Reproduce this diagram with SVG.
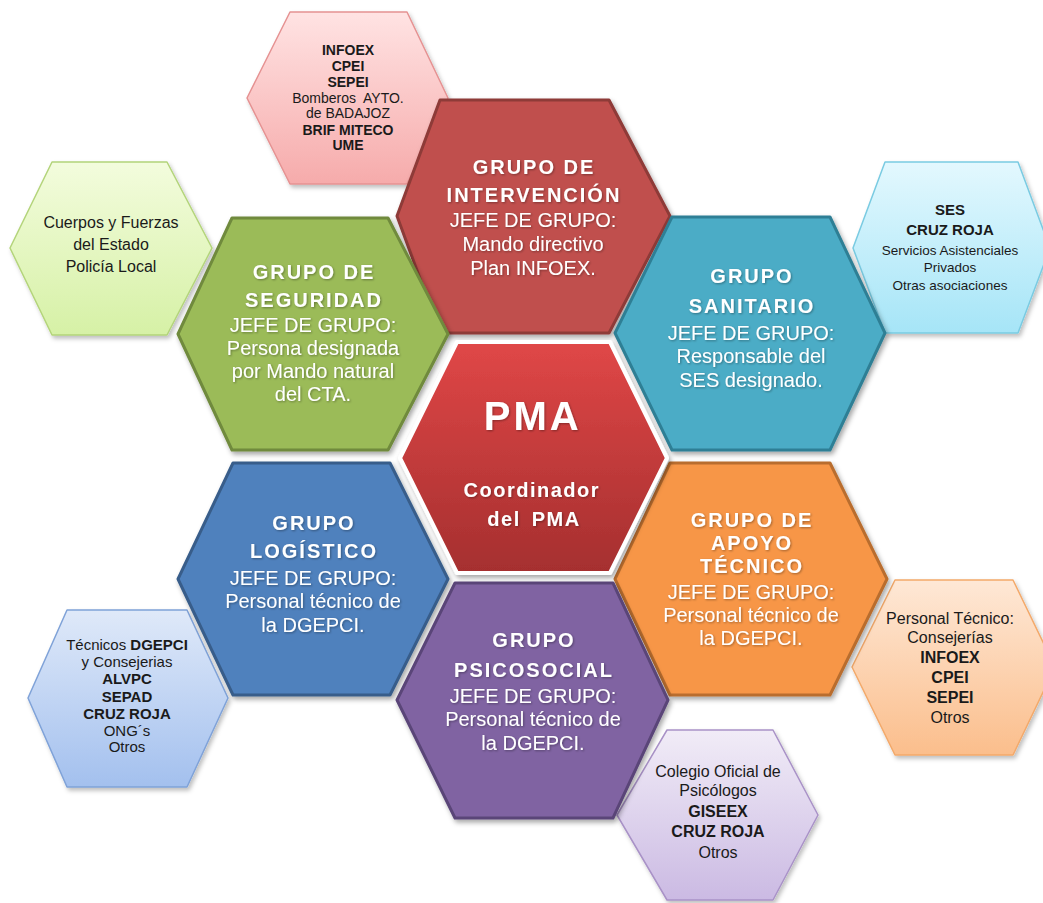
<svg xmlns="http://www.w3.org/2000/svg" width="1043" height="903" viewBox="0 0 1043 903">
<style>
.grp{stroke-width:3;stroke-linejoin:round;filter:url(#sh)}
.sat{stroke-width:1.5;stroke-linejoin:round;filter:url(#sh2)}
.tt{font-family:"Liberation Sans",Arial,sans-serif;font-weight:bold;font-size:20px;letter-spacing:2px;fill:#fff;text-anchor:middle}
.tb{font-family:"Liberation Sans",Arial,sans-serif;font-size:20px;fill:#fff;text-anchor:middle}
.txtw{filter:url(#tsh)}
.s{font-family:"Liberation Sans",Arial,sans-serif;fill:#1a1a1a;text-anchor:middle}
.b{font-weight:bold}
</style>
<defs>
<filter id="sh" x="-10%" y="-10%" width="125%" height="125%">
<feDropShadow dx="2" dy="3" stdDeviation="2.5" flood-color="#000" flood-opacity="0.35"/>
</filter>
<filter id="sh2" x="-10%" y="-10%" width="125%" height="125%">
<feDropShadow dx="2" dy="3" stdDeviation="2" flood-color="#000" flood-opacity="0.25"/>
</filter>
<filter id="tsh" x="-10%" y="-10%" width="125%" height="125%">
<feDropShadow dx="1" dy="1" stdDeviation="0.8" flood-color="#000" flood-opacity="0.35"/>
</filter>
<linearGradient id="gPMA" x1="0" y1="0" x2="0" y2="1"><stop offset="0" stop-color="#E04747"/><stop offset="1" stop-color="#A52F2F"/></linearGradient>
<linearGradient id="gPink" x1="0" y1="0" x2="0" y2="1"><stop offset="0" stop-color="#FFE3E3"/><stop offset="1" stop-color="#F6ABAB"/></linearGradient>
<linearGradient id="gLG" x1="0" y1="0" x2="0" y2="1"><stop offset="0" stop-color="#F3FCDD"/><stop offset="1" stop-color="#D6F1A6"/></linearGradient>
<linearGradient id="gLB" x1="0" y1="0" x2="0" y2="1"><stop offset="0" stop-color="#E3F8FE"/><stop offset="1" stop-color="#A6E5F7"/></linearGradient>
<linearGradient id="gBL" x1="0" y1="0" x2="0" y2="1"><stop offset="0" stop-color="#DFE9F9"/><stop offset="1" stop-color="#A3C0EE"/></linearGradient>
<linearGradient id="gOL" x1="0" y1="0" x2="0" y2="1"><stop offset="0" stop-color="#FEE8D6"/><stop offset="1" stop-color="#FBBE8C"/></linearGradient>
<linearGradient id="gPL" x1="0" y1="0" x2="0" y2="1"><stop offset="0" stop-color="#F1ECF7"/><stop offset="1" stop-color="#CBBAE3"/></linearGradient>
</defs>
<rect width="1043" height="903" fill="#fff"/>

<g id="sat-intervencion">
<polygon class="sat" points="290,12 407,12 448,98 407,184 290,184 247,98" fill="url(#gPink)" stroke="#E59292"/>
<text class="s" font-size="14"><tspan class="b" x="348" y="55">INFOEX</tspan><tspan class="b" x="348" y="71">CPEI</tspan><tspan class="b" x="348" y="87">SEPEI</tspan><tspan x="348" y="103">Bomberos&#160; AYTO.</tspan><tspan x="348" y="118">de BADAJOZ</tspan><tspan class="b" x="348" y="135">BRIF MITECO</tspan><tspan class="b" x="348" y="150">UME</tspan></text>
</g>
<g id="sat-seguridad">
<polygon class="sat" points="52,162 167,162 212,248 167,335 52,335 10,248" fill="url(#gLG)" stroke="#B3D47A"/>
<text class="s" font-size="16"><tspan x="111" y="228">Cuerpos y Fuerzas</tspan><tspan x="111" y="250">del Estado</tspan><tspan x="111" y="272">Policía Local</tspan></text>
</g>
<g id="sat-sanitario">
<polygon class="sat" points="885,162 1018,162 1050,248 1018,333 885,333 853,248" fill="url(#gLB)" stroke="#7ACBE2"/>
<text class="s"><tspan class="b" font-size="15" x="950" y="215">SES</tspan><tspan class="b" font-size="15" x="950" y="235">CRUZ ROJA</tspan><tspan font-size="13.5" x="950" y="255">Servicios Asistenciales</tspan><tspan font-size="13.5" x="950" y="272">Privados</tspan><tspan font-size="13.5" x="950" y="290">Otras asociaciones</tspan></text>
</g>
<g id="sat-logistico">
<polygon class="sat" points="67,610 187,610 228,698 187,787 67,787 28,698" fill="url(#gBL)" stroke="#7FA2D8"/>
<text class="s" font-size="15"><tspan x="127" y="650">Técnicos <tspan class="b">DGEPCI</tspan></tspan><tspan x="127" y="667">y Consejerias</tspan><tspan class="b" x="127" y="684">ALVPC</tspan><tspan class="b" x="127" y="702">SEPAD</tspan><tspan class="b" x="127" y="719">CRUZ ROJA</tspan><tspan x="127" y="736">ONG´s</tspan><tspan x="127" y="752">Otros</tspan></text>
</g>
<g id="sat-apoyo">
<polygon class="sat" points="895,580 1013,580 1055,667 1013,755 895,755 852,667" fill="url(#gOL)" stroke="#F3A96A"/>
<text class="s" font-size="16"><tspan x="950" y="624">Personal Técnico:</tspan><tspan x="950" y="643">Consejerías</tspan><tspan class="b" x="950" y="663">INFOEX</tspan><tspan class="b" x="950" y="683">CPEI</tspan><tspan class="b" x="950" y="703">SEPEI</tspan><tspan x="950" y="723">Otros</tspan></text>
</g>
<g id="sat-psicosocial">
<polygon class="sat" points="667,730 773,730 818,815 773,900 667,900 617,815" fill="url(#gPL)" stroke="#A992C7"/>
<text class="s" font-size="16"><tspan x="718" y="777">Colegio Oficial de</tspan><tspan x="718" y="796">Psicólogos</tspan><tspan class="b" x="718" y="817">GISEEX</tspan><tspan class="b" x="718" y="837">CRUZ ROJA</tspan><tspan x="718" y="858">Otros</tspan></text>
</g>

<g id="grupo-intervencion">
<polygon class="grp" points="440,100 609,100 670,216 609,333 440,333 397,216" fill="#C0504D" stroke="#8E3A38"/>
<g class="txtw"><text class="tt"><tspan x="534" y="174">GRUPO DE</tspan><tspan x="534" y="202">INTERVENCIÓN</tspan></text>
<text class="tb"><tspan x="533" y="227">JEFE DE GRUPO:</tspan><tspan x="533" y="251">Mando directivo</tspan><tspan x="533" y="275">Plan INFOEX.</tspan></text></g>
</g>
<g id="grupo-seguridad">
<polygon class="grp" points="232,218 388,218 448,334 388,450 232,450 178,334" fill="#9BBB59" stroke="#6F8A3C"/>
<g class="txtw"><text class="tt"><tspan x="314" y="279">GRUPO DE</tspan><tspan x="314" y="307">SEGURIDAD</tspan></text>
<text class="tb"><tspan x="313" y="332">JEFE DE GRUPO:</tspan><tspan x="313" y="355">Persona designada</tspan><tspan x="313" y="378">por Mando natural</tspan><tspan x="313" y="401">del CTA.</tspan></text></g>
</g>
<g id="grupo-sanitario">
<polygon class="grp" points="672,217 830,217 885,333 830,450 672,450 615,333" fill="#4BACC6" stroke="#2F7F95"/>
<g class="txtw"><text class="tt"><tspan x="752" y="283">GRUPO</tspan><tspan x="752" y="313">SANITARIO</tspan></text>
<text class="tb"><tspan x="751" y="340">JEFE DE GRUPO:</tspan><tspan x="751" y="363">Responsable del</tspan><tspan x="751" y="387">SES designado.</tspan></text></g>
</g>
<g id="grupo-logistico">
<polygon class="grp" points="233,463 390,463 448,579 390,695 233,695 178,579" fill="#4F81BD" stroke="#385D8A"/>
<g class="txtw"><text class="tt"><tspan x="314" y="530">GRUPO</tspan><tspan x="314" y="558">LOGÍSTICO</tspan></text>
<text class="tb"><tspan x="313" y="585">JEFE DE GRUPO:</tspan><tspan x="313" y="608">Personal técnico de</tspan><tspan x="313" y="632">la DGEPCI.</tspan></text></g>
</g>
<g id="grupo-apoyo">
<polygon class="grp" points="670,463 830,463 887,579 830,695 670,695 615,579" fill="#F79646" stroke="#B96D2E"/>
<g class="txtw"><text class="tt"><tspan x="752" y="527">GRUPO DE</tspan><tspan x="752" y="550">APOYO</tspan><tspan x="752" y="573">TÉCNICO</tspan></text>
<text class="tb"><tspan x="751" y="599">JEFE DE GRUPO:</tspan><tspan x="751" y="622">Personal técnico de</tspan><tspan x="751" y="645">la DGEPCI.</tspan></text></g>
</g>
<g id="grupo-psicosocial">
<polygon class="grp" points="455,583 613,583 668,700 613,818 455,818 397,700" fill="#8064A2" stroke="#5A4578"/>
<g class="txtw"><text class="tt"><tspan x="534" y="647">GRUPO</tspan><tspan x="534" y="677">PSICOSOCIAL</tspan></text>
<text class="tb"><tspan x="533" y="703">JEFE DE GRUPO:</tspan><tspan x="533" y="726">Personal técnico de</tspan><tspan x="533" y="750">la DGEPCI.</tspan></text></g>
</g>
<g id="pma">
<polygon points="457,342 610,342 667,458 610,573 457,573 400,458" fill="url(#gPMA)" stroke="#fff" stroke-width="4" stroke-linejoin="round" filter="url(#sh)"/>
<g class="txtw"><text font-family="'Liberation Sans',Arial,sans-serif" font-weight="bold" fill="#fff" text-anchor="middle">
<tspan x="535" y="430" font-size="40" letter-spacing="3">PMA</tspan>
<tspan x="534" y="497" font-size="20" letter-spacing="1.5">Coordinador</tspan>
<tspan x="534" y="526" font-size="20" letter-spacing="1.5" word-spacing="4">del PMA</tspan></text></g>
</g>
<g id="connectors"></g>
</svg>
